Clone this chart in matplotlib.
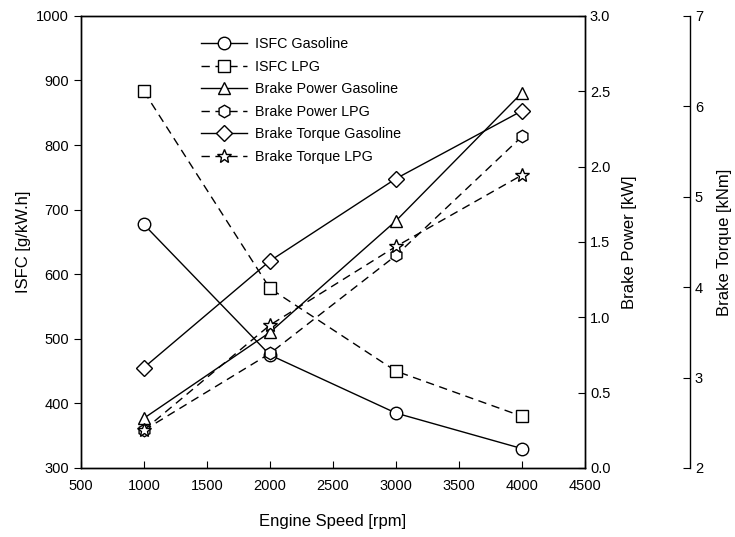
import matplotlib.pyplot as plt

plt.rcParams['font.family'] = ['Liberation Sans', 'DejaVu Sans']

# Daten
speed = [1000, 2000, 3000, 4000]
isfc_gasoline = [677, 475, 385, 330]
isfc_lpg = [883, 578, 450, 380]
power_gasoline = [0.33, 0.90, 1.64, 2.49]
power_lpg = [0.25, 0.76, 1.41, 2.20]
torque_gasoline = [3.11, 4.29, 5.20, 5.95]
torque_lpg = [2.42, 3.58, 4.45, 5.24]

dash = (0, (6, 4))
lw = 1.0
ms = 9

fig = plt.figure(figsize=(7.35, 5.37), dpi=100)
ax = fig.add_axes([0.110, 0.1285, 0.686, 0.842])
ax2 = ax.twinx()
ax3 = ax.twinx()
ax3.spines['right'].set_position(('axes', 1.208))
for s in ['left', 'top', 'bottom']:
    ax3.spines[s].set_visible(False)

style = dict(color='black', lw=lw, markersize=ms, markerfacecolor='white',
             markeredgecolor='black', markeredgewidth=1.0)

h1, = ax.plot(speed, isfc_gasoline, marker='o', ls='-', label='ISFC Gasoline', **style)
h2, = ax.plot(speed, isfc_lpg, marker='s', ls=dash, label='ISFC LPG', **style)
h3, = ax2.plot(speed, power_gasoline, marker='^', ls='-', label='Brake Power Gasoline', **style)
h4, = ax2.plot(speed, power_lpg, marker='h', ls=dash, label='Brake Power LPG', **style)
h5, = ax3.plot(speed, torque_gasoline, marker='D', ls='-', label='Brake Torque Gasoline',
               **{**style, 'markersize': 8})
h6, = ax3.plot(speed, torque_lpg, marker='*', ls=dash, label='Brake Torque LPG',
               **{**style, 'markersize': 10})

ax.set_xlim(500, 4500)
ax.set_ylim(300, 1000)
ax2.set_ylim(0, 3.0)
ax3.set_ylim(2, 7)
ax.set_xticks(range(500, 4501, 500))
ax.set_yticks(range(300, 1001, 100))
ax2.set_yticks([0.0, 0.5, 1.0, 1.5, 2.0, 2.5, 3.0])
ax2.set_yticklabels(['0.0', '0.5', '1.0', '1.5', '2.0', '2.5', '3.0'])
ax3.set_yticks([2, 3, 4, 5, 6, 7])

ax.tick_params(axis='y', direction='out', length=5, labelsize=10.5)
ax.tick_params(axis='x', direction='in', length=5, labelsize=10.5, pad=8)
ax2.tick_params(axis='y', direction='in', length=5, labelsize=10.5)
ax3.tick_params(axis='y', direction='in', length=5, labelsize=10.5)

for a in [ax, ax2, ax3]:
    for s in a.spines.values():
        s.set_linewidth(1.0)

ax.set_xlabel('Engine Speed [rpm]', fontsize=12, labelpad=15)
ax.set_ylabel('ISFC [g/kW.h]', fontsize=12, labelpad=4)
ax2.set_ylabel('Brake Power [kW]', fontsize=12, labelpad=8)
ax3.set_ylabel('Brake Torque [kNm]', fontsize=12, labelpad=10)

handles = [h1, h2, h3, h4, h5, h6]
fig.legend(handles=handles, labels=[h.get_label() for h in handles],
           loc='upper left', bbox_to_anchor=(0.256, 0.955), frameon=False,
           fontsize=10.3, handlelength=3.2, handletextpad=0.6, labelspacing=0.6)

fig.savefig('out.png', dpi=100)
